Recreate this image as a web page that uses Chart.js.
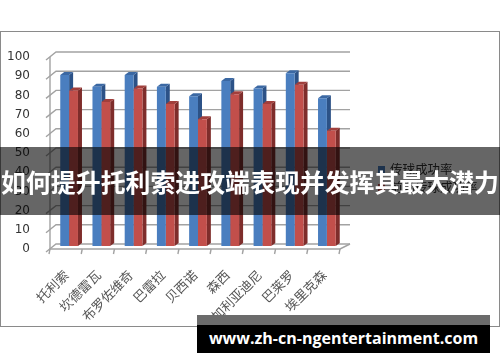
<!DOCTYPE html>
<html>
<head>
<meta charset="utf-8">
<script src="https://cdn.jsdelivr.net/npm/chart.js@4/dist/chart.umd.min.js"></script>
<style>
    html, body { margin: 0; padding: 0; background: #fff; }
    #wrap { position: relative; width: 500px; height: 362px; overflow: hidden; }
    #chart { position: absolute; left: 0; top: 0; }
    #frame {
        position: absolute; left: 0; top: 31px; width: 498px; height: 294px;
        border: 1px solid #8a8a8a; pointer-events: none;
    }
    #banner {
        position: absolute; left: 0; top: 147px; width: 500px; height: 68px;
        background: rgba(0, 0, 0, 0.6); color: #fff; text-align: center;
        font: bold 24.9px "Noto Sans CJK SC", sans-serif; line-height: 68px;
        white-space: nowrap;
    }
    #mark-top { position: absolute; left: 197px; top: 315px; width: 293px; height: 10px; background: #6b6b6b; }
    #mark {
        position: absolute; left: 197px; top: 325px; width: 293px; height: 28px;
        background: #000; color: #fff; text-align: center;
        font: bold 16px "Open Sans", sans-serif; line-height: 26px; white-space: nowrap;
    }
</style>
</head>
<body>
<div id="wrap">
    <canvas id="chart" width="500" height="362"></canvas>
    <div id="frame"></div>
    <div id="banner">如何提升托利索进攻端表现并发挥其最大潜力</div>
    <div id="mark-top"></div>
    <div id="mark">www.zh-cn-ngentertainment.com</div>
</div>
<script>
    // Dados
    const jogadores = ['托利索', '坎德雷瓦', '布罗佐维奇', '巴雷拉', '贝西诺', '森西', '加利亚迪尼', '巴莱罗', '埃里克森'];
    const passeCerto = [89, 83, 89, 83, 78, 86, 82, 90, 77];
    const passeFrente = [81, 75, 82, 74, 66, 79, 74, 84, 60];
    const nomesSeries = ['传球成功率', '前场传球成功率'];
    const yTicks = [0, 10, 20, 30, 40, 50, 60, 70, 80, 90, 100];

    const coresFrente = ['#4a7ebf', '#c24f4b'];
    const coresLado = ['#2c5287', '#7e2d2b'];
    const coresTopo = ['#3b68a3', '#a13f3c'];

    // Profundidade do efeito 3D
    const wallDx = 6, wallDy = -5;
    const barShiftX = 3, barShiftY = -3;
    const barDx = 4, barDy = -3;

    const efeito3D = {
        id: 'efeito3D',
        beforeDatasetsDraw(chart) {
            const ctx = chart.ctx;
            const area = chart.chartArea;
            const y = chart.scales.y;
            const x = chart.scales.x;

            ctx.save();
            ctx.strokeStyle = '#a2a2a2';
            ctx.lineWidth = 1.4;
            // Linhas de grade da parede do fundo + diagonais da parede esquerda
            yTicks.forEach(v => {
                const py = y.getPixelForValue(v);
                ctx.beginPath();
                ctx.moveTo(area.left - 4, py + 3);
                ctx.lineTo(area.left + wallDx, py + wallDy);
                ctx.lineTo(area.right + wallDx + 4, py + wallDy);
                ctx.stroke();
            });
            // Eixo vertical da frente
            ctx.beginPath();
            ctx.moveTo(area.left, y.getPixelForValue(100));
            ctx.lineTo(area.left, y.getPixelForValue(0));
            ctx.stroke();
            // Piso
            const base = y.getPixelForValue(0);
            ctx.beginPath();
            ctx.moveTo(area.left, base);
            ctx.lineTo(area.right, base);
            ctx.lineTo(area.right + wallDx + 4, base + wallDy);
            ctx.stroke();
            for (let i = 0; i <= jogadores.length; i++) {
                const px = x.getPixelForTick(0) + (i - 0.5) * (x.getPixelForTick(1) - x.getPixelForTick(0));
                ctx.beginPath();
                ctx.moveTo(px, base);
                ctx.lineTo(px - 1, base + 5);
                ctx.stroke();
            }
            ctx.restore();

            // Faces laterais e topo das barras (atrás das frentes)
            ctx.save();
            ctx.translate(barShiftX, barShiftY);
            chart.data.datasets.forEach((ds, di) => {
                chart.getDatasetMeta(di).data.forEach(bar => {
                    const l = bar.x - bar.width / 2;
                    const r = bar.x + bar.width / 2;
                    ctx.fillStyle = coresLado[di];
                    ctx.beginPath();
                    ctx.moveTo(r, bar.y);
                    ctx.lineTo(r + barDx, bar.y + barDy);
                    ctx.lineTo(r + barDx, bar.base + barDy);
                    ctx.lineTo(r, bar.base);
                    ctx.closePath();
                    ctx.fill();
                    ctx.fillStyle = coresTopo[di];
                    ctx.beginPath();
                    ctx.moveTo(l, bar.y);
                    ctx.lineTo(l + barDx, bar.y + barDy);
                    ctx.lineTo(r + barDx, bar.y + barDy);
                    ctx.lineTo(r, bar.y);
                    ctx.closePath();
                    ctx.fill();
                });
            });
        },
        afterDatasetsDraw(chart) {
            chart.ctx.restore();
        },
        afterDraw(chart) {
            // Legenda desenhada à mão
            const ctx = chart.ctx;
            ctx.save();
            ctx.font = '12.5px "Noto Sans CJK SC", sans-serif';
            ctx.textBaseline = 'middle';
            nomesSeries.forEach((nome, i) => {
                const ly = 169 + i * 18;
                ctx.fillStyle = coresFrente[i];
                ctx.fillRect(378, ly - 3, 7, 7);
                ctx.fillStyle = '#333';
                ctx.fillText(nome, 390, ly);
            });
            ctx.restore();
        }
    };

    new Chart(document.getElementById('chart'), {
        type: 'bar',
        data: {
            labels: jogadores,
            datasets: [
                { label: nomesSeries[0], data: passeCerto, backgroundColor: coresFrente[0] },
                { label: nomesSeries[1], data: passeFrente, backgroundColor: coresFrente[1] }
            ]
        },
        options: {
            responsive: false,
            animation: false,
            events: [],
            layout: { padding: { top: 57, right: 160, bottom: 0, left: 0 } },
            datasets: { bar: { categoryPercentage: 0.55, barPercentage: 1 } },
            plugins: { legend: { display: false }, tooltip: { enabled: false } },
            scales: {
                y: {
                    min: 0,
                    max: 100,
                    ticks: { stepSize: 10, color: '#333', padding: 12, font: { family: 'DejaVu Sans', size: 12 } },
                    grid: { display: false },
                    border: { display: false },
                    afterFit(scale) { scale.width = 50; }
                },
                x: {
                    ticks: {
                        minRotation: 45, maxRotation: 45, padding: 10, color: '#555',
                        font: { family: 'Noto Sans CJK SC', size: 13 }
                    },
                    grid: { display: false },
                    border: { display: false },
                    afterFit(scale) { scale.height = 113; }
                }
            }
        },
        plugins: [efeito3D]
    });
</script>
</body>
</html>
